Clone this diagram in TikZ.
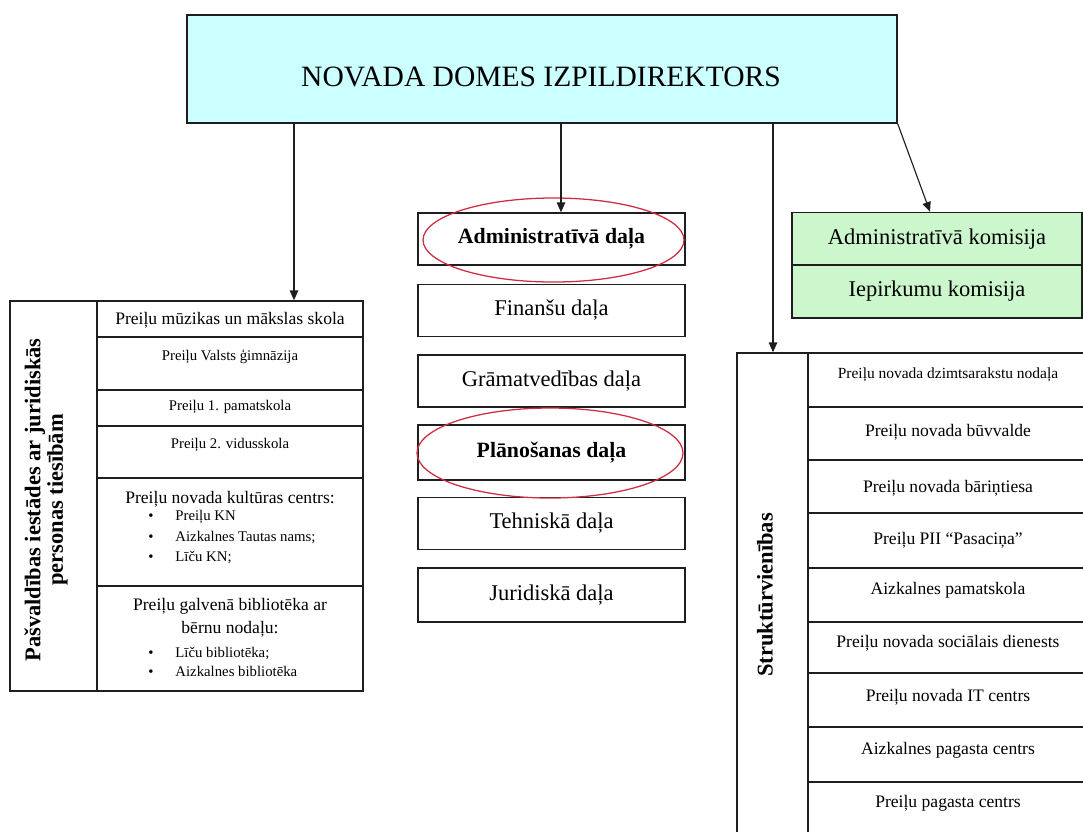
\documentclass[tikz,border=0pt]{standalone}
\usepackage{fontspec}
\setmainfont{Liberation Serif}
\usetikzlibrary{arrows.meta}

\definecolor{dirfill}{RGB}{204,255,255}
\definecolor{komfill}{RGB}{204,246,204}
\definecolor{ovalred}{RGB}{205,45,65}
\definecolor{ink}{RGB}{30,30,30}
\newcommand{\pxl}{0.025cm}
\newcommand{\fsz}[1]{\fontsize{#1}{#1}\selectfont}

\tikzset{
  frame/.style={draw=ink, line width=1pt},
  dalabox/.style={frame, minimum width=267*\pxl, minimum height=52*\pxl, inner sep=0pt, font=\fsz{16}},
  kombox/.style={frame, fill=komfill, minimum width=290*\pxl, minimum height=53*\pxl, inner sep=0pt, font=\fsz{16}},
  cell/.style={inner sep=0pt, font=\fsz{12.5}},
  tinycell/.style={inner sep=0pt, font=\fsz{10.5}},
  oval/.style={draw=ovalred, line width=0.9pt},
  arr/.style={draw=ink, line width=0.8pt, -{Triangle[length=7pt,width=6pt]}},
}

\begin{document}
\begin{tikzpicture}[x=0.025cm, y=-0.025cm]
  \useasboundingbox (0,0) rectangle (1083,831);
  \fill[white] (0,0) rectangle (1083,831);
  \clip (0,0) rectangle (1083,831);

  % top
  \node[frame, fill=dirfill, minimum width=710*\pxl, minimum height=108*\pxl] (dir) at (542,69) {};
  \node[inner sep=0pt, font=\fsz{21}] (dirtext) at (541,77) {NOVADA DOMES IZPILDIREKTORS};

  % middle column
  \node[dalabox, font=\fsz{15.5}\bfseries] (adm) at (551.5,239) {Administratīvā daļa};
  \node[dalabox] (fin) at (551.5,310.5) {Finanšu daļa};
  \node[dalabox] (gram) at (551.5,381) {Grāmatvedības daļa};
  \node[dalabox, minimum height=55*\pxl, font=\fsz{15.5}\bfseries] (plan) at (551.5,452.5) {Plānošanas daļa};
  \node[dalabox] (tehn) at (551.5,523.5) {Tehniskā daļa};
  \node[dalabox, minimum height=54*\pxl] (jur) at (551.5,595) {Juridiskā daļa};
  \draw[oval] (553.5,240) ellipse [x radius=130.5, y radius=42];
  \draw[oval] (550,453) ellipse [x radius=133, y radius=45];

  % komisijas
  \node[kombox] (komA) at (937,239) {Administratīvā komisija};
  \node[kombox] (komB) at (937,291.5) {Iepirkumu komisija};

  % left table
  \node[frame, minimum width=353*\pxl, minimum height=390*\pxl] (iest) at (186.5,496) {};
  \draw[frame] (97,301) -- (97,691);
  \foreach \y in {337,390,426,478,586}
    \draw[frame] (97,\y) -- (363,\y);
  \node[rotate=90, align=center, inner sep=0pt, font=\fsz{16}\bfseries] (iestlabel) at (46,500)
    {Pašvaldības iestādes ar juridiskās\\ personas tiesībām};
  \node[cell] (mus) at (230,320) {Preiļu mūzikas un mākslas skola};
  \node[tinycell] (gimn) at (230,357) {Preiļu Valsts ģimnāzija};
  \node[tinycell] (pam) at (230,407) {Preiļu 1. pamatskola};
  \node[tinycell] (vid) at (230,445) {Preiļu 2. vidusskola};
  \node[cell] (kult) at (230,499) {Preiļu novada kultūras centrs:};
  \node[inner sep=0pt, align=left, anchor=west, font=\fontsize{10.5}{14.5}\selectfont] (kultlist) at (148,537)
    {\textbullet\hspace{0.55cm}Preiļu KN\\ \textbullet\hspace{0.55cm}Aizkalnes Tautas nams;\\ \textbullet\hspace{0.55cm}Līču KN;};
  \node[cell, align=center, font=\fontsize{12.5}{16.5}\selectfont] (bibl) at (230,618)
    {Preiļu galvenā bibliotēka ar\\ bērnu nodaļu:};
  \node[inner sep=0pt, align=left, anchor=west, font=\fontsize{10.5}{13}\selectfont] (bibllist) at (148,662)
    {\textbullet\hspace{0.55cm}Līču bibliotēka;\\ \textbullet\hspace{0.55cm}Aizkalnes bibliotēka};

  % right table
  \node[frame, minimum width=353*\pxl, minimum height=492*\pxl] (strukt) at (913.5,599) {};
  \draw[frame] (808,353) -- (808,845);
  \foreach \y in {407,460,513,568,622,673,727,782}
    \draw[frame] (808,\y) -- (1090,\y);
  \node[rotate=90, inner sep=0pt, font=\fsz{16}\bfseries] (struktlabel) at (765,595) {Struktūrvienības};
  \node[cell, font=\fsz{11}] (dzimt) at (948,375) {Preiļu novada dzimtsarakstu nodaļa};
  \node[cell] (buv) at (948,432) {Preiļu novada būvvalde};
  \node[cell] (bar) at (948,488) {Preiļu novada bāriņtiesa};
  \node[cell] (pii) at (948,540) {Preiļu PII “Pasaciņa”};
  \node[cell] (aizpam) at (948,590) {Aizkalnes pamatskola};
  \node[cell] (soc) at (948,643) {Preiļu novada sociālais dienests};
  \node[cell] (itc) at (948,697) {Preiļu novada IT centrs};
  \node[cell] (aizpag) at (948,750) {Aizkalnes pagasta centrs};
  \node[cell] (prpag) at (948,803) {Preiļu pagasta centrs};

  % connectors
  \coordinate (d1) at (dir.south -| 294,0);
  \coordinate (d2) at (dir.south -| 561,0);
  \coordinate (d3) at (dir.south -| 773,0);
  \draw[arr] (d1) -- (d1 |- iest.north);
  \draw[arr] (d2) -- (d2 |- adm.north);
  \draw[arr] (d3) -- (d3 |- strukt.north);
  \draw[arr] (dir.south east) -- ([xshift=-7*\pxl]komA.north);
\end{tikzpicture}
\end{document}
